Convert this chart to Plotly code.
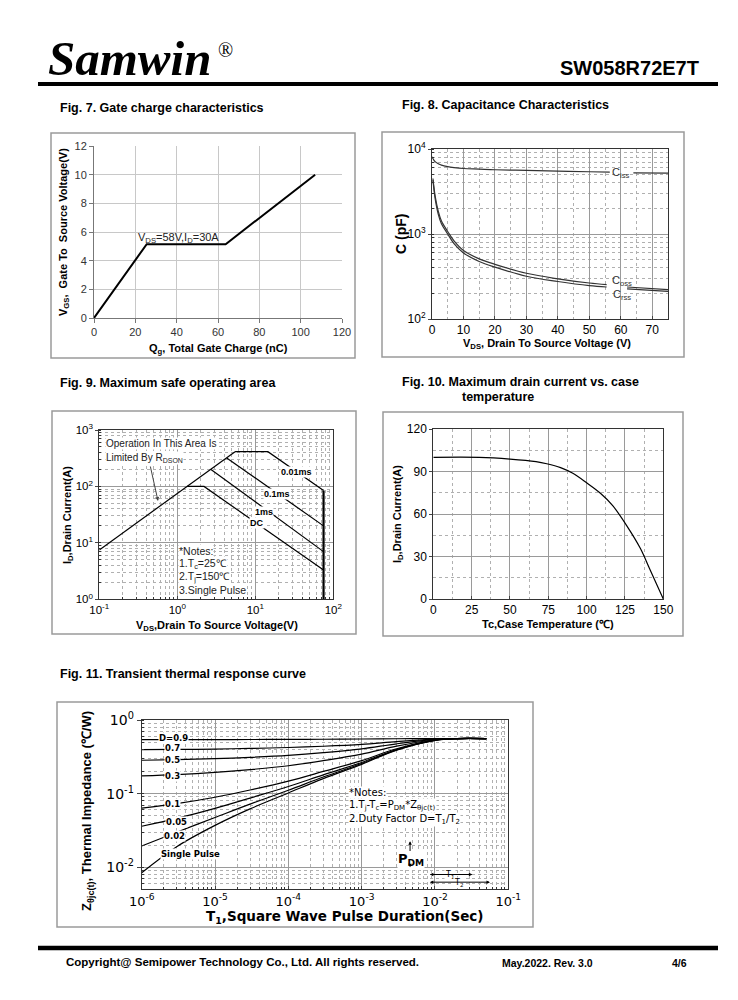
import plotly.graph_objects as go

W, H = 738, 1000
OFF = 8  # page body margin of the html page
def px(x): return (x - OFF) / W
def py(y): return 1 - (y - OFF) / H

# ---------------- data ----------------
# Fig 7 gate charge
qg = [0, 25.5, 63.7, 107]
vgs = [0, 5.15, 5.15, 10]

# Fig 8 capacitance
vds_ciss = [0, 0.5, 1, 2, 3, 5, 7, 10, 15, 20, 30, 40, 50, 56.5, None, 64, 75]
ciss = [8100, 7500, 7100, 6700, 6450, 6200, 6050, 5900, 5800, 5700, 5600, 5500, 5400, 5350, None, 5250, 5200]
vds_oss = [0.3, 1, 2, 3, 5, 7, 10, 15, 20, 30, 40, 50, 55.5, None, 62, 75]
coss = [4500, 2800, 1850, 1420, 1070, 830, 640, 510, 440, 345, 297, 265, 254, None, 238, 222]
crss = [4300, 2600, 1700, 1320, 1000, 770, 598, 475, 408, 318, 276, 247, 238, None, 226, 211]

# Fig 9 SOA
rds_v = [0.1, 5.5]
rds_i = [7.5, 413]
dc_v = [1.33, 2.2, 75]
dc_i = [100, 100, 3.3]
ms1_v = [2.7, 75]
ms1_i = [200, 7.0]
ms01_v = [4.3, 75]
ms01_i = [320, 20]
ms001_v = [5.5, 14.5, 75]
ms001_i = [413, 413, 85]
vlim_v = [75, 75]
vlim_i = [1, 85]

# Fig 10 drain current vs case temperature
tc = [0, 30, 50, 67, 74, 83, 91, 100, 109, 117, 126, 135, 141, 150]
idc = [100, 100, 98.8, 97, 95.5, 92.7, 88.7, 82, 74.6, 65.9, 52, 35.8, 21.6, 0]

# Fig 11 transient thermal impedance
t1 = [1e-6, 3e-6, 1e-5, 3e-5, 1e-4, 3e-4, 1e-3, 3e-3, 1e-2, 2e-2, 5e-2]
z_09 = [0.54, 0.541, 0.542, 0.543, 0.545, 0.548, 0.552, 0.556, 0.559, 0.56, 0.56]
z_07 = [0.395, 0.398, 0.403, 0.411, 0.423, 0.440, 0.467, 0.509, 0.551, 0.56, 0.56]
z_05 = [0.284, 0.290, 0.298, 0.311, 0.331, 0.360, 0.405, 0.475, 0.545, 0.56, 0.56]
z_03 = [0.174, 0.181, 0.194, 0.212, 0.239, 0.280, 0.343, 0.441, 0.539, 0.56, 0.56]
z_01 = [0.0636, 0.0731, 0.0893, 0.112, 0.148, 0.200, 0.281, 0.407, 0.533, 0.56, 0.56]
z_005 = [0.036, 0.046, 0.063, 0.087, 0.125, 0.180, 0.265, 0.398, 0.531, 0.56, 0.56]
z_002 = [0.0194, 0.0299, 0.0474, 0.072, 0.111, 0.168, 0.256, 0.393, 0.530, 0.56, 0.56]
z_sp = [0.0084, 0.019, 0.037, 0.062, 0.102, 0.16, 0.25, 0.39, 0.53, 0.56, 0.56]
d_labels = ["D=0.9", "0.7", "0.5", "0.3", "0.1", "0.05", "0.02", "Single Pulse"]

fig = go.Figure()

def line(x, y, ax, color='black', width=1.3, shape='linear'):
    fig.add_trace(go.Scatter(x=x, y=y, mode='lines', xaxis='x' + ax, yaxis='y' + ax,
                             line=dict(color=color, width=width, shape=shape),
                             showlegend=False, hoverinfo='skip'))

# Fig 7
line(qg, vgs, '', width=2)
# Fig 8
line(vds_ciss, ciss, '2', color='#333', width=1.2, shape='spline')
line(vds_oss, coss, '2', color='#333', width=1.2, shape='spline')
line(vds_oss, crss, '2', color='#333', width=1.2, shape='spline')
# Fig 9
for vx, iy in [(rds_v, rds_i), (dc_v, dc_i), (ms1_v, ms1_i), (ms01_v, ms01_i), (ms001_v, ms001_i)]:
    line(vx, iy, '3', width=1.2)
line(vlim_v, vlim_i, '3', width=2.2)
# Fig 10
line(tc, idc, '4', width=1.2, shape='spline')
# Fig 11
for zz in [z_09, z_07, z_05, z_03, z_01, z_005, z_002, z_sp]:
    line(t1, zz, '5', width=1.2, shape='spline')

SANS = "Liberation Sans, Arial, sans-serif"
WIDE = "DejaVu Sans, Verdana, sans-serif"
SERIF = "Liberation Serif, Times New Roman, serif"

anns = []
def ann(text, x, y, size=11, xanchor='center', yanchor='middle', angle=0, bg=None,
        family=SANS, color='black'):
    d = dict(text=text, x=px(x), y=py(y), xref='paper', yref='paper', showarrow=False,
             xanchor=xanchor, yanchor=yanchor, textangle=angle,
             font=dict(size=size, family=family, color=color))
    if bg:
        d['bgcolor'] = bg
        d['borderpad'] = 0
    anns.append(d)

# header / footer
ann("<b><i>Samwin</i></b>", 46, 58, size=49, xanchor='left', family=SERIF)
ann("®", 216, 50, size=20, xanchor='left', family=SERIF)
ann("<b>SW058R72E7T</b>", 701, 68, size=20, xanchor='right')
ann("<b>Copyright@ Semipower Technology Co., Ltd. All rights reserved.</b>", 64, 962, size=11.5, xanchor='left')
ann("<b>May.2022. Rev. 3.0</b>", 500, 963, size=10.5, xanchor='left')
ann("<b>4/6</b>", 670, 963, size=10.5, xanchor='left')

# figure titles
ann("<b>Fig. 7. Gate charge characteristics</b>", 58, 108, size=12.5, xanchor='left')
ann("<b>Fig. 8. Capacitance Characteristics</b>", 400, 105, size=12.5, xanchor='left')
ann("<b>Fig. 9. Maximum safe operating area</b>", 58, 383, size=12.5, xanchor='left')
ann("<b>Fig. 10. Maximum drain current vs. case</b>", 400, 382, size=12.5, xanchor='left')
ann("<b>temperature</b>", 460, 397, size=12.5, xanchor='left')
ann("<b>Fig. 11. Transient thermal response curve</b>", 58, 674, size=12.5, xanchor='left')

# axis titles
ann("<b>Q<sub>g</sub>, Total Gate Charge (nC)</b>", 218, 349, size=11)
ann("<b>V<sub>GS</sub>,  Gate To  Source Voltage(V)</b>", 64, 232, size=11, angle=-90)
ann("<b>V<sub>DS</sub>, Drain To Source Voltage (V)</b>", 547, 344, size=11)
ann("<b>C (pF)</b>", 401, 234, size=14, angle=-90)
ann("<b>V<sub>DS</sub>,Drain To Source Voltage(V)</b>", 217, 626, size=11)
ann("<b>I<sub>D</sub>,Drain Current(A)</b>", 68, 515, size=11, angle=-90)
ann("<b>Tc,Case Temperature (℃)</b>", 548, 624, size=11)
ann("<b>I<sub>D</sub>,Drain Current(A)</b>", 398, 514, size=11, angle=-90)
ann("<b>T<sub>1</sub>,Square Wave Pulse Duration(Sec)</b>", 345, 917, size=13.5, family=WIDE)
ann("<b>Z<sub>θjc(t)</sub>, Thermal Impedance (℃/W)</b>", 87, 811, size=13, angle=-90)

# Fig 7 annotation
ann("V<sub>DS</sub>=58V,I<sub>D</sub>=30A", 178, 238, size=11, color='#222')

# Fig 8 labels
ann("C<sub>iss</sub>", 621, 173, size=11, color='#333')
ann("C<sub>oss</sub>", 622, 281, size=11, color='#333')
ann("C<sub>rss</sub>", 622, 295, size=11, color='#333')

# Fig 9 labels
ann("Operation In This Area Is", 105, 444, size=10, xanchor='left', bg='white', color='#222')
ann("Limited By R<sub>DSON</sub>", 105, 458, size=10, xanchor='left', bg='white', color='#222')
ann("<b>0.01ms</b>", 296, 472, size=9, bg='white')
ann("<b>0.1ms</b>", 277, 494, size=9, bg='white')
ann("<b>1ms</b>", 264, 512, size=9, bg='white')
ann("<b>DC</b>", 257, 523, size=9, bg='white')
ann("*Notes:", 178, 551, size=10.5, xanchor='left', bg='white', color='#222')
ann("1.T<sub>c</sub>=25℃", 178, 564, size=10.5, xanchor='left', bg='white', color='#222')
ann("2.T<sub>j</sub>=150℃", 178, 577, size=10.5, xanchor='left', bg='white', color='#222')
ann("3.Single Pulse", 178, 590, size=10.5, xanchor='left', bg='white', color='#222')
anns.append(dict(text='', x=-0.247, y=1.742, xref='x3', yref='y3', showarrow=True,
                 ax=-8, ay=-36, arrowhead=2, arrowsize=0.8, arrowwidth=1, arrowcolor='#444'))

# Fig 11 labels
lab_y = [738, 748, 760, 776, 804, 822, 836, 854]
lab_x = [173, 172, 172, 172, 172, 176, 174, 190]
for t, lx, ly in zip(d_labels, lab_x, lab_y):
    ann("<b>" + t + "</b>", lx, ly, size=8.5, bg='white', family=WIDE)
ann("*Notes:", 348, 792, size=10, xanchor='left', bg='white', family=WIDE)
ann("1.T<sub>j</sub>-T<sub>c</sub>=P<sub>DM</sub>*Z<sub>θjc(t)</sub>", 348, 805, size=10, xanchor='left', bg='white', family=WIDE)
ann("2.Duty Factor D=T<sub>1</sub>/T<sub>2</sub>", 348, 819, size=10, xanchor='left', bg='white', family=WIDE)
ann("<b>P<sub>DM</sub></b>", 411, 859, size=13, bg='white', family=WIDE)
ann("T<sub>1</sub>", 450, 875, size=8, bg='white', family=WIDE)
ann("T<sub>2</sub>", 458, 883, size=8, bg='white', family=WIDE)
# pulse arrows (log coords of x5/y5)
for (hx, hy, tx, ty, side) in [(-2.34, -1.648, -2.34, -1.80, 'end'), (-2.34, -2.0, -2.34, -1.95, 'end'),
                                (-1.49, -2.099, -2.09, -2.099, 'end+start'),
                                (-1.25, -2.203, -2.09, -2.203, 'end+start')]:
    anns.append(dict(text='', x=hx, y=hy, ax=tx, ay=ty, xref='x5', yref='y5', axref='x5', ayref='y5',
                     showarrow=True, arrowhead=2, arrowsize=0.7, arrowwidth=1, arrowcolor='black',
                     arrowside=side))

shapes = []
def box(x0, y0, x1, y1, color='#9a9a9a', width=1.5):
    shapes.append(dict(type='rect', xref='paper', yref='paper', x0=px(x0), x1=px(x1), y0=py(y1), y1=py(y0),
                       line=dict(color=color, width=width)))
def hline(x0, x1, y, width):
    shapes.append(dict(type='line', xref='paper', yref='paper', x0=px(x0), x1=px(x1), y0=py(y), y1=py(y),
                       line=dict(color='black', width=width)))

hline(38, 718, 84, 4)
hline(38, 718, 948, 4.5)
box(51, 133, 355, 358)
box(382, 132, 684, 357)
box(52, 411, 356, 634)
box(383, 412, 683, 636)
box(57, 702, 533, 927)

# pulse diagram in Fig 11 (log10 coordinates)
shapes.append(dict(type='path', xref='x5', yref='y5',
                   path='M -2.09,-2.0 L -2.09,-1.648 L -1.49,-1.648 L -1.49,-2.0 L -1.25,-2.0 L -1.25,-1.648 L -1.0,-1.648',
                   line=dict(color='black', width=1)))
shapes.append(dict(type='line', xref='x5', yref='y5', x0=-2.545, x1=-2.09, y0=-1.648, y1=-1.648,
                   line=dict(color='black', width=1)))
for xx in [-2.09, -1.25]:
    shapes.append(dict(type='line', xref='x5', yref='y5', x0=xx, x1=xx, y0=-2.0, y1=-2.3,
                       line=dict(color='black', width=0.8, dash='dot')))
shapes.append(dict(type='line', xref='x5', yref='y5', x0=-2.34, x1=-2.34, y0=-1.648, y1=-1.80,
                   line=dict(color='black', width=1)))

MAJ = '#9a9a9a'
MIN = '#b0b0b0'
frame = dict(showline=True, linecolor='#333', linewidth=1, mirror=True, zeroline=False, automargin=False)

def logminor():
    return dict(dtick='D1', showgrid=True, gridcolor=MIN, griddash='dot', gridwidth=1,
                ticks='inside', ticklen=2, tickcolor='#333')

fig.update_layout(
    width=W, height=H, margin=dict(l=0, r=0, t=0, b=0, pad=0, autoexpand=False),
    paper_bgcolor='white', plot_bgcolor='white', showlegend=False,
    font=dict(family=SANS, color='black'),
    xaxis=dict(domain=[px(94), px(342)], range=[0, 120], dtick=20, anchor='y', zeroline=False,
               automargin=False,
               showgrid=True, gridcolor='#c8c8c8', showline=True, linecolor='#777', ticks='outside',
               ticklen=4, tickcolor='#777', tickfont=dict(size=11, color='#333')),
    yaxis=dict(domain=[py(318), py(146)], range=[0, 12], dtick=2, anchor='x', zeroline=False,
               automargin=False,
               showgrid=True, gridcolor='#c8c8c8', showline=True, linecolor='#777', ticks='outside',
               ticklen=4, tickcolor='#777', tickfont=dict(size=11, color='#333')),
    xaxis2=dict(domain=[px(432), px(668)], range=[0, 75], dtick=10, anchor='y2', gridcolor=MAJ,
                minor=dict(dtick=5, showgrid=True, gridcolor=MIN, griddash='dot'),
                ticks='inside', ticklen=3, tickfont=dict(size=12), **frame),
    yaxis2=dict(domain=[py(319), py(149)], type='log', range=[2, 4], anchor='x2', gridcolor=MAJ,
                tickmode='array', tickvals=[100, 1000, 10000],
                ticktext=['10<sup>2</sup>', '10<sup>3</sup>', '10<sup>4</sup>'],
                minor=logminor(), ticks='outside', ticklen=3, tickfont=dict(size=12), **frame),
    xaxis3=dict(domain=[px(99.3), px(333.3)], type='log', range=[-1, 2], anchor='y3', gridcolor=MAJ,
                tickmode='array', tickvals=[0.1, 1, 10, 100],
                ticktext=['10<sup>-1</sup>', '10<sup>0</sup>', '10<sup>1</sup>', '10<sup>2</sup>'],
                minor=logminor(), ticks='inside', ticklen=3, tickfont=dict(size=11.5), **frame),
    yaxis3=dict(domain=[py(599.3), py(430)], type='log', range=[0, 3], anchor='x3', gridcolor=MAJ,
                tickmode='array', tickvals=[1, 10, 100, 1000],
                ticktext=['10<sup>0</sup>', '10<sup>1</sup>', '10<sup>2</sup>', '10<sup>3</sup>'],
                minor=logminor(), ticks='outside', ticklen=3, tickfont=dict(size=11.5), **frame),
    xaxis4=dict(domain=[px(433.3), px(663.3)], range=[0, 150], dtick=25, anchor='y4', gridcolor=MAJ,
                minor=dict(dtick=12.5, showgrid=True, gridcolor=MIN, griddash='dot'),
                ticks='inside', ticklen=3, tickfont=dict(size=12), **frame),
    yaxis4=dict(domain=[py(599), py(429)], range=[0, 120], dtick=30, anchor='x4', gridcolor=MAJ,
                minor=dict(dtick=15, showgrid=True, gridcolor=MIN, griddash='dot'),
                ticks='outside', ticklen=3, tickfont=dict(size=12), **frame),
    xaxis5=dict(domain=[px(141.7), px(508.3)], type='log', range=[-6, -1], anchor='y5', gridcolor=MAJ,
                tickmode='array', tickvals=[1e-6, 1e-5, 1e-4, 1e-3, 1e-2, 1e-1],
                ticktext=['10<sup>-6</sup>', '10<sup>-5</sup>', '10<sup>-4</sup>', '10<sup>-3</sup>',
                          '10<sup>-2</sup>', '10<sup>-1</sup>'],
                minor=logminor(), ticks='inside', ticklen=3,
                tickfont=dict(size=13, family=WIDE), **frame),
    yaxis5=dict(domain=[py(889.3), py(720)], type='log', range=[-2.3, 0], anchor='x5', gridcolor=MAJ,
                tickmode='array', tickvals=[0.01, 0.1, 1],
                ticktext=['10<sup>-2</sup>', '10<sup>-1</sup>', '10<sup>0</sup>'],
                minor=logminor(), ticks='outside', ticklen=4,
                tickfont=dict(size=14, family=WIDE), **frame),
    annotations=anns, shapes=shapes,
)

fig.write_html("out.html")
